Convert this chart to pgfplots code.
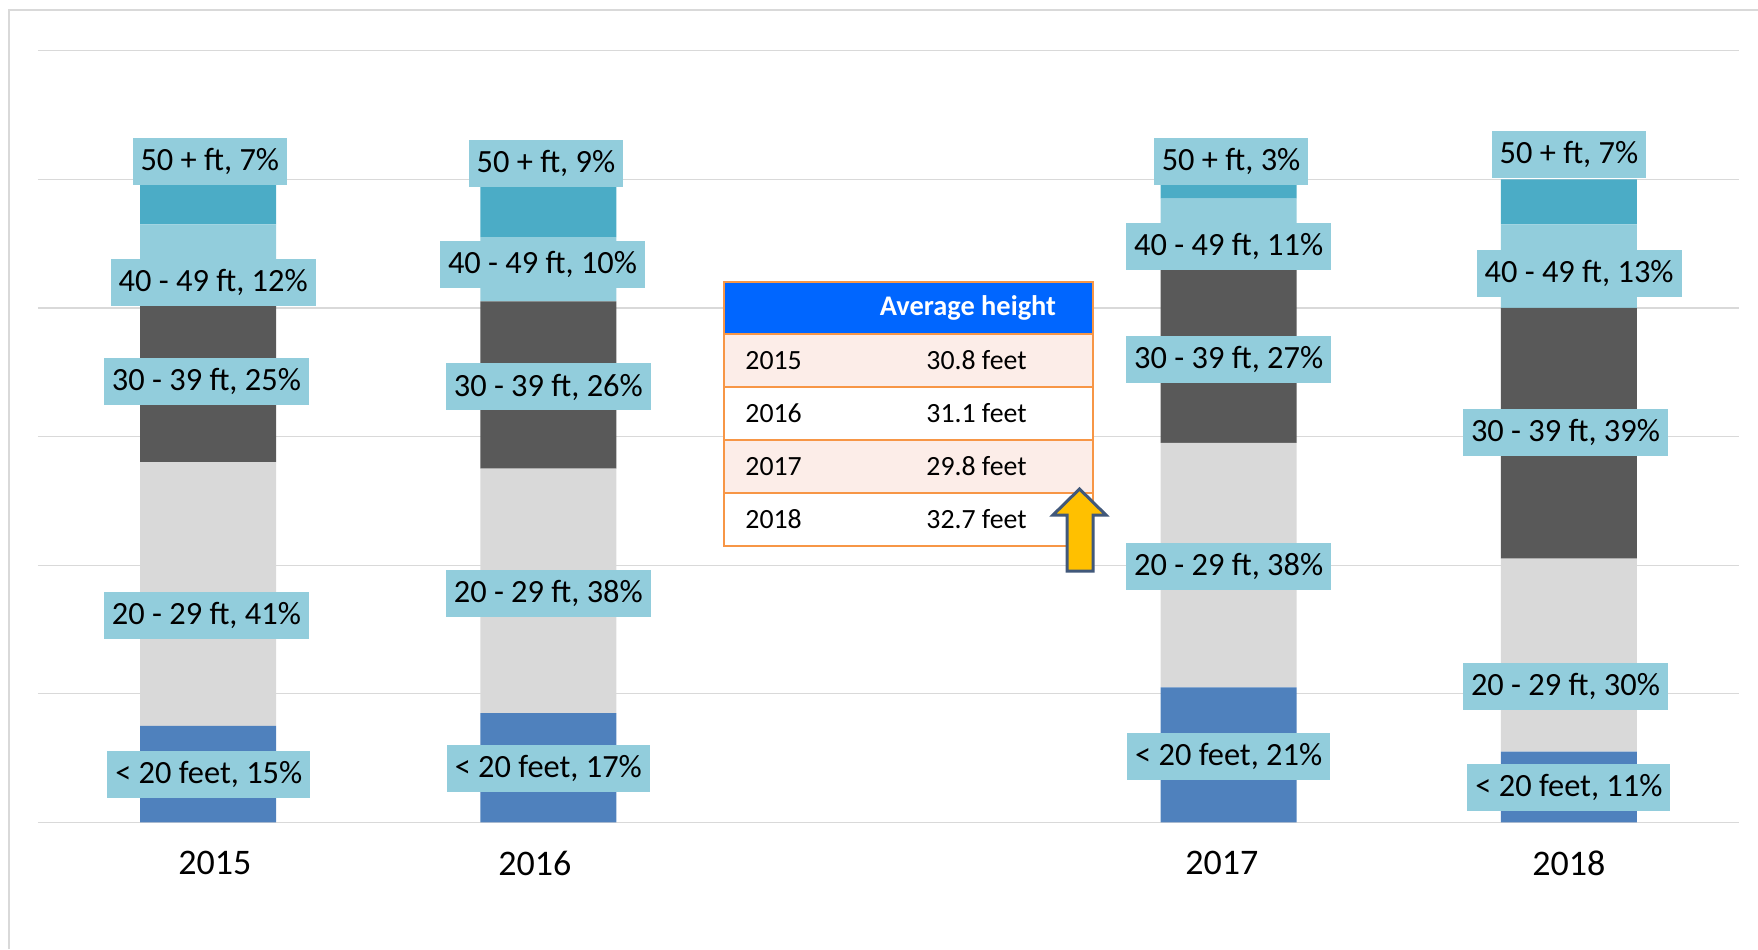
\documentclass[border=0pt]{standalone}
\usepackage{fontspec}
\setmainfont{Carlito}
\usepackage{pgfplots}
\pgfplotsset{compat=1.18}
\definecolor{cA}{HTML}{4F81BD}
\definecolor{cB}{HTML}{D9D9D9}
\definecolor{cC}{HTML}{595959}
\definecolor{cD}{HTML}{92CDDC}
\definecolor{cE}{HTML}{4BACC6}
\definecolor{lbl}{HTML}{92CDDC}
\definecolor{gridg}{HTML}{D9D9D9}
\definecolor{hdr}{HTML}{0066FF}
\definecolor{rowp}{HTML}{FCEDE8}
\definecolor{orng}{HTML}{F79646}
\definecolor{arrY}{HTML}{FFC000}
\definecolor{arrB}{HTML}{41587A}
\tikzset{labelnode/.style={fill=lbl, font=\fontsize{16.2}{20}\selectfont, inner xsep=4pt, minimum height=23.5pt, text=black}}
\begin{document}
\begin{tikzpicture}
\begin{scope}[x=0.5pt,y=-0.5pt]
\path[use as bounding box] (0,0) rectangle (1758,949);
\draw[gridg,line width=1pt] (9,949) -- (9,10) -- (1758,10);
\end{scope}
\begin{axis}[at={(19pt,-411.15pt)}, anchor=south west, scale only axis,
  width=850.5pt, height=385.8pt,
  xmin=-0.5, xmax=4.5, ymin=0, ymax=120,
  ybar stacked, bar width=68pt,
  axis line style={draw=none},
  ytick={0,20,...,120}, yticklabels={},
  ymajorgrids, grid style={color=gridg,line width=0.6pt},
  major tick length=0pt,
  xtick={0,1,3,4},
  xticklabels={\hspace*{6.8pt}2015,2016\hspace*{13.4pt},2017\hspace*{6.8pt},2018},
  xticklabel style={font=\fontsize{18}{22}\selectfont, yshift=-11pt},
  clip=false,
]
\addplot[fill=cA,draw=none] coordinates {(0,15) (1,17) (3,21) (4,11)};
\addplot[fill=cB,draw=none] coordinates {(0,41) (1,38) (3,38) (4,30)};
\addplot[fill=cC,draw=none] coordinates {(0,25) (1,26) (3,27) (4,39)};
\addplot[fill=cD,draw=none] coordinates {(0,12) (1,10) (3,11) (4,13)};
\addplot[fill=cE,draw=none] coordinates {(0,7) (1,9) (3,3) (4,7)};
% label anchors 2015
\coordinate (a1) at (axis cs:0.005,102.7);
\coordinate (a2) at (axis cs:0.015,84.0);
\coordinate (a3) at (axis cs:-0.005,68.5);
\coordinate (a4) at (axis cs:-0.005,32.1);
\coordinate (a5) at (axis cs:0.002,7.5);
% 2016
\coordinate (b1) at (axis cs:0.993,102.4);
\coordinate (b2) at (axis cs:0.983,86.7);
\coordinate (b3) at (axis cs:1.0,67.7);
\coordinate (b4) at (axis cs:1.0,35.6);
\coordinate (b5) at (axis cs:1.0,8.4);
% 2017
\coordinate (c1) at (axis cs:3.007,102.7);
\coordinate (c2) at (axis cs:3.0,89.6);
\coordinate (c3) at (axis cs:3.0,72.0);
\coordinate (c4) at (axis cs:3.0,39.8);
\coordinate (c5) at (axis cs:3.0,10.3);
% 2018
\coordinate (d1) at (axis cs:4.0,103.9);
\coordinate (d2) at (axis cs:4.03,85.3);
\coordinate (d3) at (axis cs:3.99,60.7);
\coordinate (d4) at (axis cs:3.99,21.1);
\coordinate (d5) at (axis cs:4.0,5.4);
\end{axis}
\node[labelnode] at (a1) {50 + ft, 7\%};
\node[labelnode] at (a2) {40 - 49 ft, 12\%};
\node[labelnode] at (a3) {30 - 39 ft, 25\%};
\node[labelnode] at (a4) {20 - 29 ft, 41\%};
\node[labelnode] at (a5) {< 20 feet, 15\%};
\node[labelnode] at (b1) {50 + ft, 9\%};
\node[labelnode] at (b2) {40 - 49 ft, 10\%};
\node[labelnode] at (b3) {30 - 39 ft, 26\%};
\node[labelnode] at (b4) {20 - 29 ft, 38\%};
\node[labelnode] at (b5) {< 20 feet, 17\%};
\node[labelnode] at (c1) {50 + ft, 3\%};
\node[labelnode] at (c2) {40 - 49 ft, 11\%};
\node[labelnode] at (c3) {30 - 39 ft, 27\%};
\node[labelnode] at (c4) {20 - 29 ft, 38\%};
\node[labelnode] at (c5) {< 20 feet, 21\%};
\node[labelnode] at (d1) {50 + ft, 7\%};
\node[labelnode] at (d2) {40 - 49 ft, 13\%};
\node[labelnode] at (d3) {30 - 39 ft, 39\%};
\node[labelnode] at (d4) {20 - 29 ft, 30\%};
\node[labelnode] at (d5) {< 20 feet, 11\%};
\begin{scope}[x=0.5pt,y=-0.5pt]
% table
\fill[hdr] (724,282) rectangle (1093,334);
\fill[rowp] (724,334) rectangle (1093,387);
\fill[white] (724,387) rectangle (1093,440);
\fill[rowp] (724,440) rectangle (1093,493);
\fill[white] (724,493) rectangle (1093,546);
\draw[orng,line width=1pt] (724,282) rectangle (1093,546);
\foreach \yy in {334,387,440,493} \draw[orng,line width=1pt] (724,\yy) -- (1093,\yy);
\node[text=white,font=\fontsize{14.2}{17}\selectfont\bfseries] at (968,308) {Average height};
\begin{scope}[font=\fontsize{13.9}{16}\selectfont]
\node[anchor=west,inner sep=0pt] at (745,360.5) {2015};
\node[anchor=west,inner sep=0pt] at (745,413.5) {2016};
\node[anchor=west,inner sep=0pt] at (745,466.5) {2017};
\node[anchor=west,inner sep=0pt] at (745,519.5) {2018};
\node[anchor=west,inner sep=0pt] at (926,360.5) {30.8 feet};
\node[anchor=west,inner sep=0pt] at (926,413.5) {31.1 feet};
\node[anchor=west,inner sep=0pt] at (926,466.5) {29.8 feet};
\node[anchor=west,inner sep=0pt] at (926,519.5) {32.7 feet};
\end{scope}
\draw[arrB,fill=arrY,line width=1.5pt,line join=miter] (1079.5,489) -- (1106,515) -- (1093,515) -- (1093,571) -- (1067,571) -- (1067,515) -- (1053,515) -- cycle;
\end{scope}
\end{tikzpicture}
\end{document}
